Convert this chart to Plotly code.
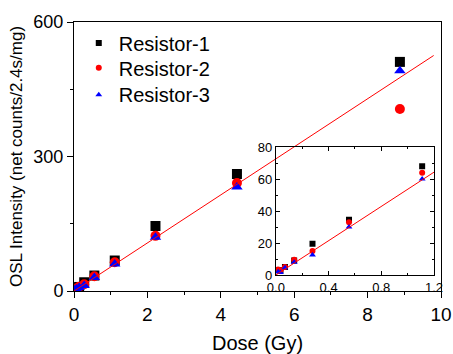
import plotly.graph_objects as go

# ---- data ----
dose = [0.017, 0.035, 0.069, 0.139, 0.278, 0.555, 1.11, 2.22, 4.44, 8.88]
resistor1 = [3, 3, 5, 9, 19.5, 34.5, 68, 145, 261, 511]
resistor2 = [3.5, 3, 5, 9.5, 15, 33, 64, 123, 241, 406]
resistor3 = [2, 1.5, 4.5, 8, 12.5, 30, 60, 120, 232, 491]
series_names = ["Resistor-1", "Resistor-2", "Resistor-3"]

fit_slope = 53.6
fit_intercept = 0.0
fit_x_main = [0, 9.8]
fit_x_inset = [0, 1.2]

main_xticks = [0, 2, 4, 6, 8, 10]
main_yticks = [0, 300, 600]
inset_xticks = [0.0, 0.4, 0.8, 1.2]
inset_xticklabels = ["0.0", "0.4", "0.8", "1.2"]
inset_yticks = [0, 20, 40, 60, 80]

colors = ["#000000", "#ff0000", "#0000ff"]
symbols = ["square", "circle", "triangle-up"]
series = [resistor1, resistor2, resistor3]
legend_ids = ["legend", "legend2", "legend3"]
legend_rows_y = [0.922, 0.83, 0.73]

FONT = "Liberation Sans, Arial, sans-serif"

fig = go.Figure()

# main points
for name, ys, c, s in zip(series_names, series, colors, symbols):
    fig.add_trace(go.Scatter(x=dose, y=ys, mode="markers", name=name,
                             marker=dict(color=c, symbol=s, size=10, line=dict(width=0)),
                             showlegend=False, xaxis="x", yaxis="y"))
fig.add_trace(go.Scatter(x=fit_x_main, y=[fit_intercept + fit_slope * v for v in fit_x_main],
                         mode="lines", line=dict(color="#ff0000", width=1),
                         showlegend=False, xaxis="x", yaxis="y"))

# inset points (also carry the legend entries)
for name, ys, c, s, lg in zip(series_names, series, colors, symbols, legend_ids):
    xs = [d for d in dose if d <= 1.2]
    yy = [v for d, v in zip(dose, ys) if d <= 1.2]
    fig.add_trace(go.Scatter(x=xs, y=yy, mode="markers", name=name,
                             marker=dict(color=c, symbol=s, size=6, line=dict(width=0)),
                             showlegend=True, legend=lg, xaxis="x2", yaxis="y2"))
fig.add_trace(go.Scatter(x=fit_x_inset, y=[fit_intercept + fit_slope * v for v in fit_x_inset],
                         mode="lines", line=dict(color="#ff0000", width=1),
                         showlegend=False, xaxis="x2", yaxis="y2"))

axis_common = dict(showgrid=False, zeroline=False, showline=True, linecolor="black",
                   linewidth=1, tickcolor="black", tickwidth=1, automargin=False)

legend_common = dict(x=0.013, xanchor="left", yanchor="middle",
                     font=dict(size=20, family=FONT, color="black"),
                     bgcolor="rgba(0,0,0,0)", borderwidth=0)

fig.update_layout(
    width=453, height=354,
    margin=dict(l=74, r=12, t=22, b=63, autoexpand=False),
    paper_bgcolor="white", plot_bgcolor="rgba(0,0,0,0)",
    font=dict(family=FONT, color="black"),
    xaxis=dict(domain=[0, 1], range=[0, 10], anchor="y", tickvals=main_xticks,
               ticks="outside", ticklen=6, mirror=True,
               minor=dict(dtick=1, ticks="outside", ticklen=3, tickcolor="black"),
               tickfont=dict(size=19),
               title=dict(text="Dose (Gy)", font=dict(size=20), standoff=16),
               **axis_common),
    yaxis=dict(domain=[0, 1], range=[0, 600], anchor="x", tickvals=main_yticks,
               ticks="outside", ticklen=6, mirror=True,
               minor=dict(dtick=150, ticks="outside", ticklen=3, tickcolor="black"),
               tickfont=dict(size=18),
               title=dict(text="OSL Intensity (net counts/2.4s/mg)", font=dict(size=17), standoff=6),
               **axis_common),
    xaxis3=dict(overlaying="x", side="top", anchor="y", range=[0, 10], tickvals=main_xticks,
                ticks="inside", ticklen=4, showticklabels=False, automargin=False,
                minor=dict(dtick=1, ticks="inside", ticklen=2, tickcolor="black"),
                showgrid=False, zeroline=False, showline=False, tickcolor="black"),
    yaxis3=dict(overlaying="y", side="right", anchor="x", range=[0, 600], tickvals=main_yticks,
                ticks="inside", ticklen=4, showticklabels=False, automargin=False,
                minor=dict(dtick=150, ticks="inside", ticklen=2, tickcolor="black"),
                showgrid=False, zeroline=False, showline=False, tickcolor="black"),
    xaxis2=dict(domain=[0.550, 0.981], range=[0, 1.2], anchor="y2",
                tickvals=inset_xticks, ticktext=inset_xticklabels,
                ticks="inside", ticklen=4, mirror="ticks",
                minor=dict(dtick=0.2, ticks="inside", ticklen=2, tickcolor="black"),
                tickfont=dict(size=13), **axis_common),
    yaxis2=dict(domain=[0.0595, 0.535], range=[0, 80], anchor="x2",
                tickvals=inset_yticks, ticks="inside", ticklen=4, mirror="ticks",
                minor=dict(dtick=10, ticks="inside", ticklen=2, tickcolor="black"),
                tickfont=dict(size=13), **axis_common),
    legend=dict(y=legend_rows_y[0], **legend_common),
    legend2=dict(y=legend_rows_y[1], **legend_common),
    legend3=dict(y=legend_rows_y[2], **legend_common),
)

fig.write_html("out.html", config={"displayModeBar": False},
               post_script="document.body.style.margin='0px';document.body.style.padding='0px';")
